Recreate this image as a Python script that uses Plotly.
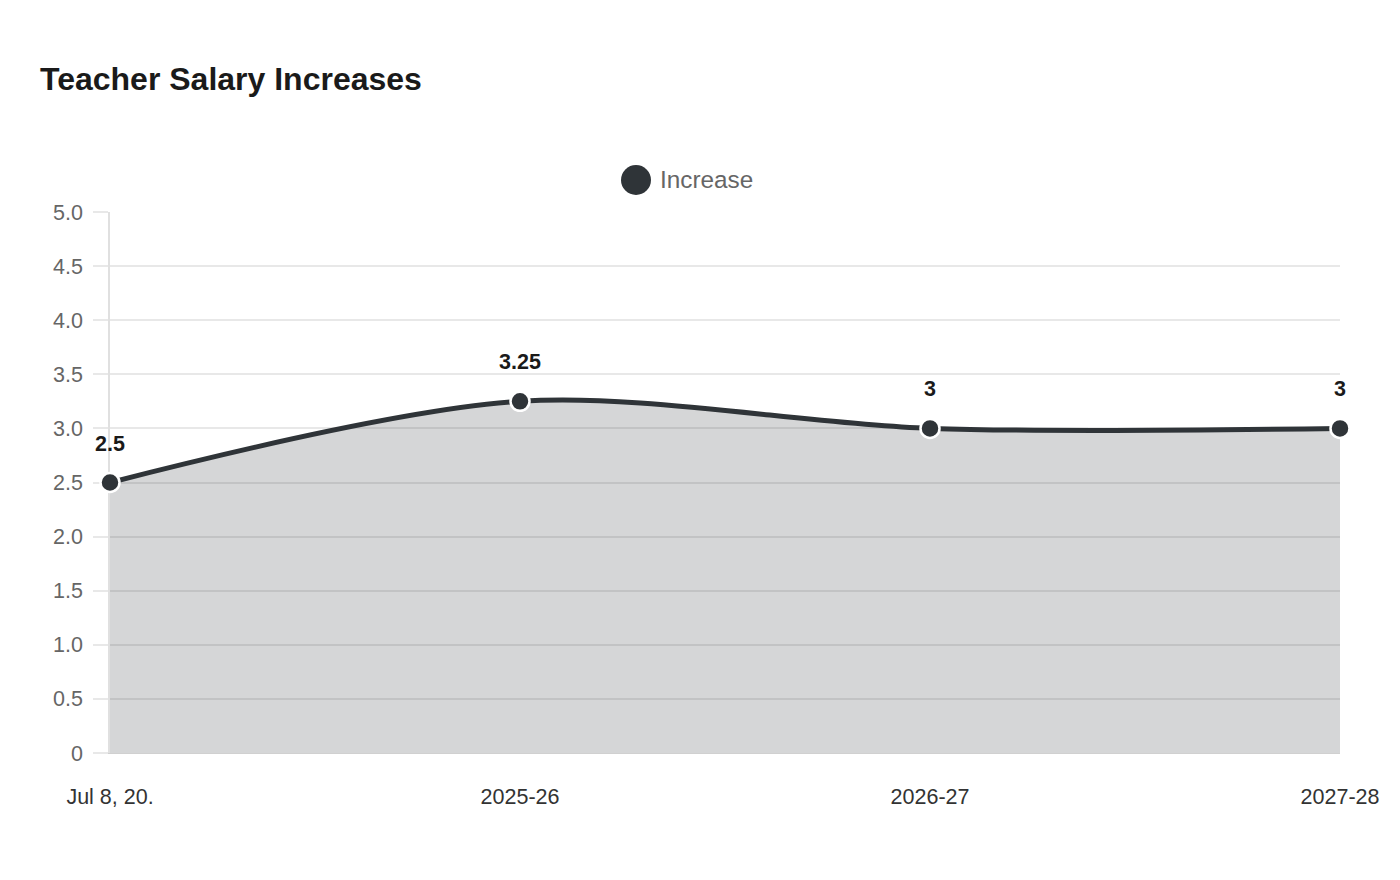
import plotly.graph_objects as go

categories = ["Jul 8, 20.", "2025-26", "2026-27", "2027-28"]
increase = [2.5, 3.25, 3, 3]
label_text = ["2.5", "3.25", "3", "3"]
y_ticks = [0, 0.5, 1, 1.5, 2, 2.5, 3, 3.5, 4, 4.5, 5]
y_tick_labels = ["0", "0.5", "1.0", "1.5", "2.0", "2.5", "3.0", "3.5", "4.0", "4.5", "5.0"]

LINE = "#2f3438"
FONT = "Liberation Sans, Arial, sans-serif"

fig = go.Figure()
fig.add_trace(go.Scatter(
    x=categories, y=increase, name="Increase",
    mode="lines+markers",
    line=dict(color=LINE, width=5, shape="spline", smoothing=0.9),
    fill="tozeroy", fillcolor="rgba(47,52,56,0.2)",
    marker=dict(size=19, color=LINE, line=dict(color="white", width=2.5)),
    showlegend=False, cliponaxis=False,
))

for c, v, t in zip(categories, increase, label_text):
    fig.add_annotation(x=c, y=v, text="<b>%s</b>" % t, showarrow=False,
                       yshift=39, font=dict(family=FONT, size=21.5, color="#1a1a1a"))

# legend (drawn manually to match large circle symbol)
fig.add_shape(type="circle", xref="paper", yref="paper",
              x0=(621 - 110) / 1230, x1=(651 - 110) / 1230,
              y0=(753 - 195) / 541, y1=(753 - 165) / 541,
              fillcolor=LINE, line=dict(width=0))
fig.add_annotation(xref="paper", yref="paper", x=(658 - 110) / 1230, y=(753 - 180) / 541,
                   xanchor="left", yanchor="middle", text="Increase", showarrow=False,
                   font=dict(family=FONT, size=24.3, color="#666666"))

fig.update_layout(
    width=1400, height=880,
    margin=dict(l=110, r=60, t=212, b=127),
    paper_bgcolor="white", plot_bgcolor="white",
    font=dict(family=FONT),
    title=dict(text="<b>Teacher Salary Increases</b>", x=40 / 1400, xref="container", xanchor="left",
               y=1 - 79 / 880, yref="container", yanchor="middle",
               font=dict(family=FONT, size=32, color="#1a1a1a")),
)
fig.update_xaxes(
    type="category", range=[0, 3], showgrid=False, zeroline=False,
    showline=True, linecolor="#d0d0d0", linewidth=1, layer="below traces",
    ticks="", ticklabelstandoff=24,
    tickfont=dict(family=FONT, size=21.5, color="#333333"),
)
fig.update_yaxes(
    range=[0, 5], tickvals=y_ticks, ticktext=y_tick_labels,
    showgrid=True, gridcolor="#e8e8e8", gridwidth=1.5, zeroline=False,
    showline=True, linecolor="#e0e0e0", linewidth=1.5, layer="below traces",
    ticks="outside", ticklen=15, tickcolor="#e8e8e8", tickwidth=1.5,
    ticklabelstandoff=6,
    tickfont=dict(family=FONT, size=21.5, color="#666666"),
)

fig.write_html("out.html")
